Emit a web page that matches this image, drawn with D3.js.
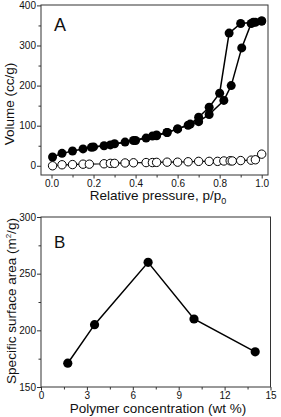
<!DOCTYPE html>
<html>
<head>
<meta charset="utf-8">
<script src="https://cdn.jsdelivr.net/npm/d3@7"></script>
<style>
  body { margin: 0; background: #fff; }
  text { font-family: "Liberation Sans", Arial, sans-serif; fill: #111; }
</style>
</head>
<body>
<div id="chart"></div>
<script>
// panel A - isotherm
var adsP = [0.005,0.05,0.1,0.15,0.2,0.25,0.3,0.35,0.4,0.45,0.5,0.55,0.6,0.65,0.7,0.75,0.82,0.855,0.905,0.95,0.97,1.0];
var adsV = [22,31,37,42,47,50,55,59,63,69,75,83,92,101,110,128,163,200,294,355,358,361];
var desP = [1.0,0.96,0.9,0.845,0.8,0.75,0.7,0.66,0.6,0.55,0.5,0.48,0.39,0.28,0.19];
var desV = [361,358,355,331,181,146,121,104,92,83,77,74,63,52,46];
var refP = [0.005,0.05,0.1,0.15,0.18,0.25,0.28,0.3,0.35,0.39,0.45,0.48,0.5,0.55,0.6,0.65,0.7,0.75,0.79,0.82,0.85,0.86,0.9,0.95,0.97,1.0];
var refV = [0,2.5,3,4,4,5,6,6,7,7.5,8,8,8.5,9,9,10,11,11,11,12,12.5,12,13,14,15,29];
var ticksA_x = [0,0.2,0.4,0.6,0.8,1.0];
var ticksA_y = [0,100,200,300,400];

// panel B - surface area
var conc = [1.75,3.5,7,10,14];
var area = [171,205,260,210,181];
var ticksB_x = [0,3,6,9,12,15];
var ticksB_y = [150,200,250,300];

var W = 281, H = 417;
var svg = d3.select("#chart").append("svg").attr("width", W).attr("height", H);

function zip(a, b) { return a.map(function(d, i) { return [d, b[i]]; }); }

function frame(x, y) {
  var x0 = x.range()[0], x1 = x.range()[1], y0 = y.range()[1], y1 = y.range()[0];
  svg.append("rect").attr("x", x0).attr("y", y0).attr("width", x1 - x0).attr("height", y1 - y0)
    .attr("fill", "none").attr("stroke", "#333").attr("stroke-width", 1);
}

function axes(x, y, tx, ty, minX, minY, fmtX) {
  var g;
  g = svg.append("g").attr("transform", "translate(0," + y.range()[0] + ")")
    .call(d3.axisBottom(x).tickValues(minX).tickSize(2.5).tickFormat(""));
  g.select(".domain").remove();
  g = svg.append("g").attr("transform", "translate(0," + y.range()[0] + ")")
    .call(d3.axisBottom(x).tickValues(tx).tickSize(3.5).tickPadding(1).tickFormat(fmtX));
  g.select(".domain").remove();
  g.selectAll("text").attr("font-size", "10px");
  g = svg.append("g").attr("transform", "translate(" + x.range()[0] + ",0)")
    .call(d3.axisLeft(y).tickValues(minY).tickSize(2.5).tickFormat(""));
  g.select(".domain").remove();
  g = svg.append("g").attr("transform", "translate(" + x.range()[0] + ",0)")
    .call(d3.axisLeft(y).tickValues(ty).tickSize(4).tickPadding(1));
  g.select(".domain").remove();
  g.selectAll("text").attr("font-size", "10px");
  svg.selectAll("line").attr("stroke", "#333");
}

// ---- panel A
var xA = d3.scaleLinear().domain([-0.05, 1.03]).range([41, 268]);
var yA = d3.scaleLinear().domain([-23, 401]).range([175, 5]);
axes(xA, yA, ticksA_x, ticksA_y, [0.1,0.3,0.5,0.7,0.9], [50,150,250,350], d3.format(".1f"));
frame(xA, yA);

var lineA = d3.line().x(function(d) { return xA(d[0]); }).y(function(d) { return yA(d[1]); });
[zip(refP, refV)].forEach(function(s) {
  svg.append("path").attr("d", lineA(s)).attr("fill", "none").attr("stroke", "#000").attr("stroke-width", 1.2);
  svg.selectAll(null).data(s).enter().append("circle")
    .attr("cx", function(d) { return xA(d[0]); }).attr("cy", function(d) { return yA(d[1]); })
    .attr("r", 4.2).attr("fill", "#fff").attr("stroke", "#000").attr("stroke-width", 1);
});
[zip(adsP, adsV), zip(desP, desV)].forEach(function(s) {
  svg.append("path").attr("d", lineA(s)).attr("fill", "none").attr("stroke", "#000").attr("stroke-width", 1.5);
  svg.selectAll(null).data(s).enter().append("circle")
    .attr("cx", function(d) { return xA(d[0]); }).attr("cy", function(d) { return yA(d[1]); })
    .attr("r", 4.5).attr("fill", "#000");
});

svg.append("text").attr("x", 54).attr("y", 31).attr("font-size", "18px").text("A");
var tA = svg.append("text").attr("x", 158).attr("y", 200).attr("text-anchor", "middle").attr("font-size", "13.5px");
tA.append("tspan").text("Relative pressure, p/p");
tA.append("tspan").attr("font-size", "9px").attr("dy", 4).text("0");
svg.append("text").attr("transform", "translate(14,104) rotate(-90)").attr("text-anchor", "middle")
  .attr("font-size", "13.5px").text("Volume (cc/g)");

// ---- panel B
var xB = d3.scaleLinear().domain([0, 15]).range([41, 270.5]);
var yB = d3.scaleLinear().domain([150, 300]).range([387, 217]);
axes(xB, yB, ticksB_x, ticksB_y, [1.5,4.5,7.5,10.5,13.5], [175,225,275], d3.format("d"));
frame(xB, yB);

var lineB = d3.line().x(function(d) { return xB(d[0]); }).y(function(d) { return yB(d[1]); });
var sB = zip(conc, area);
svg.append("path").attr("d", lineB(sB)).attr("fill", "none").attr("stroke", "#000").attr("stroke-width", 1.5);
svg.selectAll(null).data(sB).enter().append("circle")
  .attr("cx", function(d) { return xB(d[0]); }).attr("cy", function(d) { return yB(d[1]); })
  .attr("r", 4.6).attr("fill", "#000");

svg.append("text").attr("x", 54).attr("y", 248).attr("font-size", "17px").text("B");
svg.append("text").attr("x", 158).attr("y", 413).attr("text-anchor", "middle").attr("font-size", "13.5px")
  .text("Polymer concentration (wt %)");
var tB = svg.append("text").attr("transform", "translate(16,301) rotate(-90)").attr("text-anchor", "middle")
  .attr("font-size", "13.5px");
tB.append("tspan").text("Specific surface area (m");
tB.append("tspan").attr("font-size", "8px").attr("dy", -5).text("2");
tB.append("tspan").attr("dy", 5).text("/g)");
</script>
</body>
</html>
